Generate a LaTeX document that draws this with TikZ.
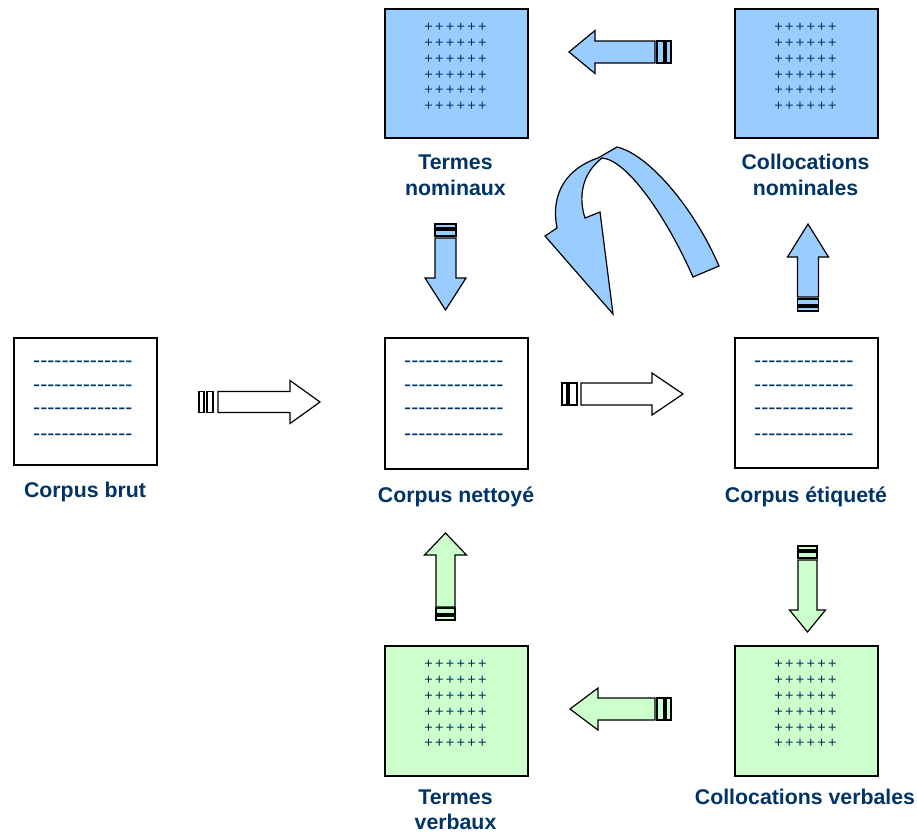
\documentclass[tikz,border=0pt]{standalone}
\usepackage{fontspec}
\setmainfont{Liberation Sans}
\newfontfamily\dashfont[Ligatures=TeXOff]{Liberation Sans}
\definecolor{navy}{HTML}{003366}
\definecolor{lblue}{HTML}{99CCFF}
\definecolor{lgreen}{HTML}{CCFFCC}
\tikzset{
  box/.style={draw=black, line width=1.6pt, minimum width=143pt, inner sep=0pt, anchor=north west},
  lbl/.style={font=\fontsize{21.3}{25}\selectfont\bfseries, text=navy, anchor=base, inner sep=0pt},
  dashrow/.style={font=\dashfont\fontsize{21.3}{25}\selectfont, text=navy, anchor=base west, inner sep=0pt},
  plusrow/.style={font=\fontsize{14.5}{16}\selectfont, text=navy, anchor=base, inner sep=0pt},
  barrow/.style={draw=black, line width=1.2pt, line join=miter},
  afill/.store in=\afill, afill=white,
}
% #1 placement/fill, #2 bar1 end, #3 bar2 start, #4 bar2 end, #5 shaft start,
% #6 head base, #7 tip, #8 shaft half width, #9 head half width
\newcommand{\blockarrow}[9]{%
  \begin{scope}[#1]
    \path[barrow, fill=\afill] (0,-#8) rectangle (#2,#8);
    \path[barrow, fill=\afill] (#3,-#8) rectangle (#4,#8);
    \path[barrow, fill=\afill] (#5,-#8) -- (#6,-#8) -- (#6,-#9) -- (#7,0) -- (#6,#9) -- (#6,#8) -- (#5,#8) -- cycle;
  \end{scope}}
\newcommand{\dashes}{--------------}
\newcommand{\pk}{\kern2.3pt}
\newcommand{\pluses}{+\pk+\pk+\pk+\pk+\pk+}
\begin{document}
\begin{tikzpicture}[x=1pt,y=-1pt]
\useasboundingbox (0,0) rectangle (917,832);

% boxes
\node[box, fill=lblue, minimum height=129pt] (tn) at (384,8) {};
\node[box, fill=lblue, minimum height=129pt] (cn) at (734,8) {};
\node[box, fill=white, minimum height=127pt] (brut) at (13,337) {};
\node[box, fill=white, minimum height=131pt] (net) at (384,337) {};
\node[box, fill=white, minimum height=130pt] (eti) at (734,337) {};
\node[box, fill=lgreen, minimum height=130pt] (tv) at (384,645) {};
\node[box, fill=lgreen, minimum height=130pt] (cv) at (734,645) {};

% dashed text rows
\foreach \bx/\nm in {13/a,384/b,734/c}{
  \foreach \yy [count=\i] in {30.4,54.3,77.6,103.3}{
    \node[dashrow] (d\nm\i) at (\bx+20,337+\yy) {\dashes};
  }
}
% plus rows
\foreach \cx/\ty/\nm in {455.5/8/a,805.5/8/b,455.5/645/c,805.5/645/d}{
  \foreach \yy [count=\i] in {23.8,39.6,55.4,71.2,87,102.8}{
    \node[plusrow] (p\nm\i) at (\cx,\ty+\yy) {\pluses};
  }
}

% labels
\node[lbl] (ltn1) at (455.5,169) {Termes};
\node[lbl] (ltn2) at (455.5,195) {nominaux};
\node[lbl] (lcn1) at (805.5,169) {Collocations};
\node[lbl] (lcn2) at (805.5,195) {nominales};
\node[lbl] (lbrut) at (85,497) {Corpus brut};
\node[lbl] (lnet) at (456,502) {Corpus nettoyé};
\node[lbl] (leti) at (806,502) {Corpus étiqueté};
\node[lbl] (ltv1) at (455.5,804) {Termes};
\node[lbl] (ltv2) at (455.5,829) {verbaux};
\node[lbl] (lcv) at (805,804) {Collocations verbales};

% block arrows
\blockarrow{shift={(199,402)}, afill=white}{5}{8}{14}{19}{91}{121}{10.5}{21.5}
\blockarrow{shift={(562,394)}, afill=white}{5}{7}{15}{19}{90}{121}{11}{21}
\blockarrow{shift={(671,52)}, rotate=180, afill=lblue}{5}{7}{14}{16}{76}{102}{11}{21.5}
\blockarrow{shift={(445.5,224)}, rotate=-90, afill=lblue}{4}{6}{12}{14}{54}{86}{10.5}{20.5}
\blockarrow{shift={(808,311)}, rotate=90, afill=lblue}{4}{6}{12}{14}{54}{87}{10.5}{20.5}
\blockarrow{shift={(807.5,546)}, rotate=-90, afill=lgreen}{4}{6}{12}{14}{64}{86}{9.5}{18}
\blockarrow{shift={(671,709)}, rotate=180, afill=lgreen}{5}{7}{14}{16}{73}{101}{11}{21}
\blockarrow{shift={(445.5,620)}, rotate=90, afill=lgreen}{4}{6}{12}{13}{65}{87}{9.5}{21}

% curved arrow
\draw[barrow, fill=lblue]
  (719,266) .. controls (695,210) and (650,155) .. (617,147)
  -- (598,158)
  .. controls (568,168) and (550,192) .. (557,228)
  -- (545,236) -- (613,314) -- (600,212) -- (585,218)
  .. controls (579,200) and (580,175) .. (602,158)
  .. controls (628,160) and (668,220) .. (693,277)
  -- cycle;
\end{tikzpicture}
\end{document}
